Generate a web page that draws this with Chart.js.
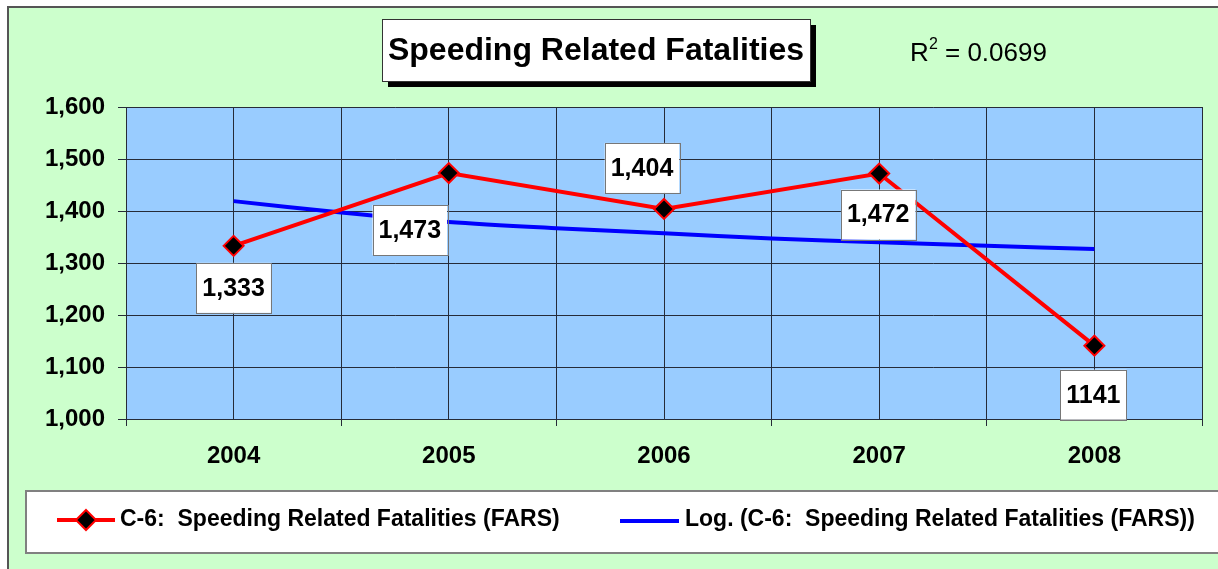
<!DOCTYPE html>
<html>
<head>
<meta charset="utf-8">
<script src="https://cdn.jsdelivr.net/npm/chart.js@4"></script>
<style>
  body { margin: 0; background: #fff; }
  #wrap { width: 1218px; height: 569px; }
</style>
</head>
<body>
<div id="wrap"><canvas id="chart" width="1218" height="569"></canvas></div>
<script>
// chart data
const years = [2004, 2005, 2006, 2007, 2008];
const fatalities = [1333, 1473, 1404, 1472, 1141];
const pointLabels = ['1,333', '1,473', '1,404', '1,472', '1141'];
// log trendline (every half year)
const trendYears = [2004, 2004.5, 2005, 2005.5, 2006, 2006.5, 2007, 2007.5, 2008];
const trendValues = [1419, 1397, 1379, 1367, 1357, 1347, 1340, 1333, 1327];
const yTicks = [1000, 1100, 1200, 1300, 1400, 1500, 1600];

const FONT = "'Liberation Sans', Arial, sans-serif";
const gridColor = '#262b38';

// where each value box sits relative to its point
const labelOffsets = [[0, 42], [-39, 57], [-22, -41], [-1, 41], [-1, 49]];

const background = {
  id: 'background',
  beforeDraw(chart) {
    const ctx = chart.ctx;
    const a = chart.chartArea;
    ctx.save();
    ctx.fillStyle = '#ffffff';
    ctx.fillRect(0, 0, chart.width, chart.height);
    ctx.fillStyle = '#ccffcc';
    ctx.fillRect(8, 7, chart.width - 8, chart.height - 7);
    ctx.strokeStyle = '#555555';
    ctx.lineWidth = 2;
    ctx.beginPath();
    ctx.moveTo(8, chart.height);
    ctx.lineTo(8, 7);
    ctx.lineTo(chart.width, 7);
    ctx.stroke();
    ctx.fillStyle = '#99ccff';
    ctx.fillRect(a.left, a.top, a.right - a.left, a.bottom - a.top);
    ctx.restore();
  }
};

const valueBoxes = {
  id: 'valueBoxes',
  afterDatasetsDraw(chart) {
    const ctx = chart.ctx;
    const meta = chart.getDatasetMeta(0);
    ctx.save();
    ctx.font = 'bold 25px ' + FONT;
    ctx.textAlign = 'center';
    ctx.textBaseline = 'middle';
    meta.data.forEach((pt, i) => {
      const cx = pt.x + labelOffsets[i][0];
      const cy = pt.y + labelOffsets[i][1];
      const w = ctx.measureText(pointLabels[i]).width + 12;
      const h = 50;
      ctx.fillStyle = '#ffffff';
      ctx.fillRect(cx - w / 2, cy - h / 2, w, h);
      ctx.strokeStyle = '#777777';
      ctx.lineWidth = 1;
      ctx.strokeRect(Math.round(cx - w / 2) + 0.5, Math.round(cy - h / 2) + 0.5, Math.round(w), h);
      ctx.fillStyle = '#000000';
      ctx.fillText(pointLabels[i], cx, cy + 1);
    });
    ctx.restore();
  }
};

const decorations = {
  id: 'decorations',
  afterDraw(chart) {
    const ctx = chart.ctx;
    ctx.save();
    // title box with shadow
    ctx.fillStyle = '#000000';
    ctx.fillRect(388, 25, 428, 62);
    ctx.fillStyle = '#ffffff';
    ctx.fillRect(382, 19, 428, 62);
    ctx.strokeStyle = '#333333';
    ctx.lineWidth = 1;
    ctx.strokeRect(382.5, 19.5, 428, 62);
    ctx.fillStyle = '#000000';
    ctx.font = 'bold 32px ' + FONT;
    ctx.textAlign = 'center';
    ctx.textBaseline = 'middle';
    ctx.fillText('Speeding Related Fatalities', 596, 51);

    // R squared
    ctx.textAlign = 'left';
    ctx.textBaseline = 'alphabetic';
    ctx.font = '26px ' + FONT;
    ctx.fillText('R', 910, 61);
    ctx.font = '16px ' + FONT;
    ctx.fillText('2', 929, 49);
    ctx.font = '26px ' + FONT;
    ctx.fillText('= 0.0699', 945, 61);

    // legend
    ctx.fillStyle = '#ffffff';
    ctx.fillRect(26, 491, chart.width - 26, 62);
    ctx.strokeStyle = '#808080';
    ctx.lineWidth = 2;
    ctx.strokeRect(26, 491, chart.width, 62);
    ctx.lineWidth = 4;
    ctx.strokeStyle = '#ff0000';
    ctx.beginPath();
    ctx.moveTo(57, 520);
    ctx.lineTo(115, 520);
    ctx.stroke();
    ctx.beginPath();
    ctx.moveTo(86, 510);
    ctx.lineTo(96, 520);
    ctx.lineTo(86, 530);
    ctx.lineTo(76, 520);
    ctx.closePath();
    ctx.fillStyle = '#000000';
    ctx.fill();
    ctx.lineWidth = 2;
    ctx.stroke();
    ctx.lineWidth = 4;
    ctx.strokeStyle = '#0000ff';
    ctx.beginPath();
    ctx.moveTo(620, 521);
    ctx.lineTo(679, 521);
    ctx.stroke();
    ctx.fillStyle = '#000000';
    ctx.font = 'bold 23px ' + FONT;
    ctx.textBaseline = 'middle';
    ctx.fillText('C-6:  Speeding Related Fatalities (FARS)', 120, 520);
    ctx.fillText('Log. (C-6:  Speeding Related Fatalities (FARS))', 685, 520);
    ctx.restore();
  }
};

const ctx = document.getElementById('chart').getContext('2d');
const chart = new Chart(ctx, {
  type: 'line',
  data: {
    datasets: [
      {
        label: 'C-6:  Speeding Related Fatalities (FARS)',
        data: years.map((y, i) => ({ x: y, y: fatalities[i] })),
        borderColor: '#ff0000',
        borderWidth: 4,
        pointStyle: 'rectRot',
        pointRadius: 10,
        pointBackgroundColor: '#000000',
        pointBorderColor: '#ff0000',
        pointBorderWidth: 2,
        order: 0
      },
      {
        label: 'Log. (C-6:  Speeding Related Fatalities (FARS))',
        data: trendYears.map((y, i) => ({ x: y, y: trendValues[i] })),
        borderColor: '#0000ff',
        borderWidth: 4,
        pointRadius: 0,
        tension: 0.3,
        order: 1
      }
    ]
  },
  options: {
    responsive: false,
    animation: false,
    layout: { padding: { top: 107, right: 13, left: 0, bottom: 0 } },
    plugins: {
      legend: { display: false },
      tooltip: { enabled: false }
    },
    scales: {
      x: {
        type: 'linear',
        min: 2003.5,
        max: 2008.5,
        afterFit(scale) { scale.height = 150; },
        afterBuildTicks(scale) {
          const t = [];
          for (let v = 2003.5; v <= 2008.5; v += 0.5) t.push({ value: v });
          scale.ticks = t;
        },
        ticks: {
          autoSkip: false,
          maxRotation: 0,
          padding: 16,
          color: '#000000',
          font: { family: FONT, size: 24, weight: 'bold' },
          callback: v => Number.isInteger(v) ? String(v) : ''
        },
        grid: {
          color: gridColor,
          lineWidth: 1,
          tickLength: 7,
          tickColor: c => (c.tick && Number.isInteger(c.tick.value)) ? 'rgba(0,0,0,0)' : gridColor
        },
        border: { color: gridColor, width: 1 }
      },
      y: {
        min: 1000,
        max: 1600,
        afterFit(scale) { scale.width = 126; },
        afterBuildTicks(scale) { scale.ticks = yTicks.map(v => ({ value: v })); },
        ticks: {
          padding: 13,
          color: '#000000',
          font: { family: FONT, size: 24, weight: 'bold' },
          callback: v => v.toLocaleString('en-US')
        },
        grid: { color: gridColor, lineWidth: 1, tickLength: 8, tickColor: gridColor },
        border: { color: gridColor, width: 1 }
      }
    }
  },
  plugins: [background, valueBoxes, decorations]
});
</script>
</body>
</html>
